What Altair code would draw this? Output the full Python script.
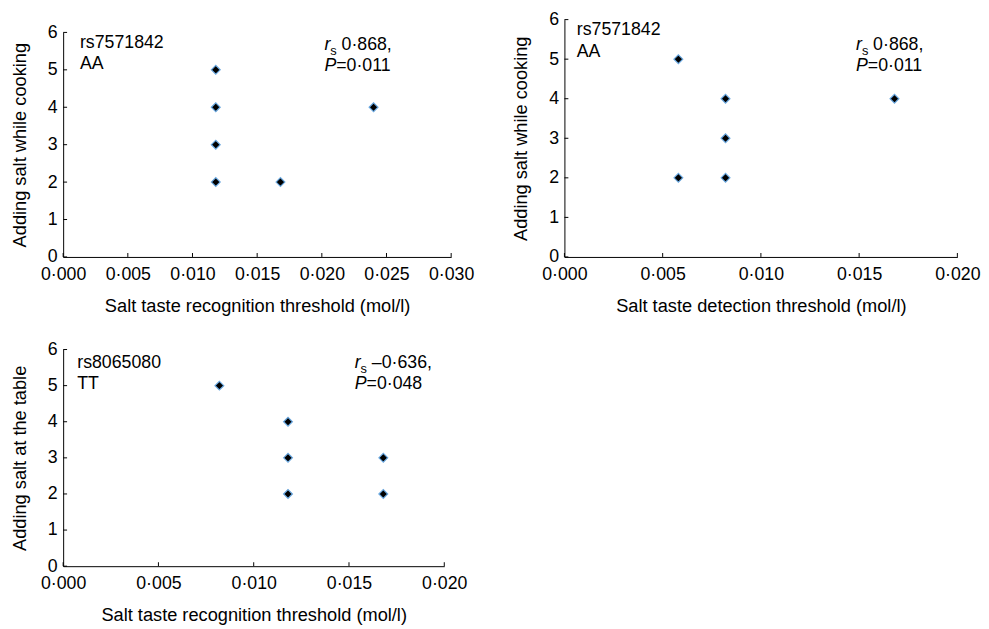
import altair as alt
import pandas as pd

FONT = "Liberation Sans"
FS = 18
TFS = 18.5

# ---------------- data ----------------
# Panel 1: rs7571842 AA, recognition threshold vs adding salt while cooking
p1_x = [0.0118, 0.0118, 0.0118, 0.0118, 0.0168, 0.0240]
p1_y = [5, 4, 3, 2, 2, 4]
# Panel 2: rs7571842 AA, detection threshold vs adding salt while cooking
p2_x = [0.0058, 0.0058, 0.0082, 0.0082, 0.0082, 0.0168]
p2_y = [5, 2, 4, 3, 2, 4]
# Panel 3: rs8065080 TT, recognition threshold vs adding salt at the table
p3_x = [0.0082, 0.0118, 0.0118, 0.0118, 0.0168, 0.0168]
p3_y = [5, 4, 3, 2, 3, 2]

x_titles = ["Salt taste recognition threshold (mol/l)",
            "Salt taste detection threshold (mol/l)",
            "Salt taste recognition threshold (mol/l)"]
y_titles = ["Adding salt while cooking", "Adding salt while cooking",
            "Adding salt at the table"]
snp_names = ["rs7571842", "rs7571842", "rs8065080"]
genotypes = ["AA", "AA", "TT"]
rs_values = ["0·868,", "0·868,", "–0·636,"]
p_values = ["=0·011", "=0·011", "=0·048"]

x_ticks_30 = [0.000, 0.005, 0.010, 0.015, 0.020, 0.025, 0.030]
x_ticks_20 = [0.000, 0.005, 0.010, 0.015, 0.020]
y_ticks = [0, 1, 2, 3, 4, 5, 6]

# annotation anchors in data units
lab_x = [0.0013, 0.00063, 0.00074]
lab_y1 = [5.58, 5.60, 5.50]
lab_y2 = [5.01, 5.06, 4.91]
st_x = [0.0202, 0.01484, 0.0153]
st_y1 = [5.53, 5.23, 5.50]
st_y2 = [4.97, 4.69, 4.91]

LABEL_EXPR = "replace(format(datum.value, '.3f'), '.', '·')"


def panel(i, xs, ys, xticks, width, height, yrange):
    xdom = [0, xticks[-1]]
    xscale = alt.Scale(domain=xdom, nice=False, zero=False)
    yscale = alt.Scale(domain=[0, 6], nice=False, range=yrange)
    base_axis = dict(domainColor="black", domainWidth=1, grid=False,
                     ticks=False, tickSize=0, labelFont=FONT, titleFont=FONT,
                     labelFontSize=FS, titleFontSize=TFS, labelColor="black",
                     titleColor="black", titleFontWeight="normal",
                     labelOverlap=False, labelFlush=False)
    xaxis = alt.Axis(values=xticks, labelExpr=LABEL_EXPR, title=x_titles[i],
                     labelPadding=9, titlePadding=13, **base_axis)
    yaxis = alt.Axis(values=y_ticks, format="d", title=y_titles[i],
                     labelPadding=6, titlePadding=18, **base_axis)

    pts = pd.DataFrame({"x": xs, "y": ys})
    points = alt.Chart(pts).mark_point(
        shape="diamond", filled=True, fill="black", stroke="#6aa8e0",
        strokeWidth=1.2, size=80, opacity=1
    ).encode(x=alt.X("x:Q", scale=xscale, axis=xaxis),
             y=alt.Y("y:Q", scale=yscale, axis=yaxis))

    xt = pd.DataFrame({"t": xticks})
    xtick_rules = alt.Chart(xt).mark_rule(color="black", strokeWidth=1).encode(
        x=alt.X("t:Q", scale=xscale, axis=xaxis),
        y=alt.value(yrange[0]), y2=alt.value(yrange[0] - 4))
    yt = pd.DataFrame({"t": y_ticks})
    ytick_rules = alt.Chart(yt).mark_rule(color="black", strokeWidth=1).encode(
        y=alt.Y("t:Q", scale=yscale, axis=yaxis),
        x=alt.value(0), x2=alt.value(4))

    def txt(x, y, text, dx=0, dy=0, size=FS, style="normal"):
        df = pd.DataFrame({"x": [x], "y": [y], "text": [text]})
        return alt.Chart(df).mark_text(
            align="left", baseline="alphabetic", font=FONT, fontSize=size,
            fontStyle=style, color="black", dx=dx, dy=dy
        ).encode(x=alt.X("x:Q", scale=xscale, axis=xaxis),
                 y=alt.Y("y:Q", scale=yscale, axis=yaxis),
                 text="text:N")

    texts = [
        txt(lab_x[i], lab_y1[i], snp_names[i]),
        txt(lab_x[i], lab_y2[i], genotypes[i]),
        txt(st_x[i], st_y1[i], "r", style="italic"),
        txt(st_x[i], st_y1[i], "s", dx=6, dy=5, size=13),
        txt(st_x[i], st_y1[i], rs_values[i], dx=17.4),
        txt(st_x[i], st_y2[i], "P", style="italic"),
        txt(st_x[i], st_y2[i], p_values[i], dx=12),
    ]
    return alt.layer(points, xtick_rules, ytick_rules, *texts).properties(
        width=width, height=height)


c1 = panel(0, p1_x, p1_y, x_ticks_30, 394, 249, [249, 21])
c2 = panel(1, p2_x, p2_y, x_ticks_20, 399, 249, [249, 8])
c3 = panel(2, p3_x, p3_y, x_ticks_20, 387, 220, [220, 0])

top = alt.hconcat(c1, c2, spacing=37)
chart = alt.vconcat(top, c3, spacing=26).properties(
    padding={"left": 2, "top": -2, "right": 0, "bottom": 0}
).configure_view(stroke=None)

chart.save("out.html", embed_options={"renderer": "svg", "actions": False})
